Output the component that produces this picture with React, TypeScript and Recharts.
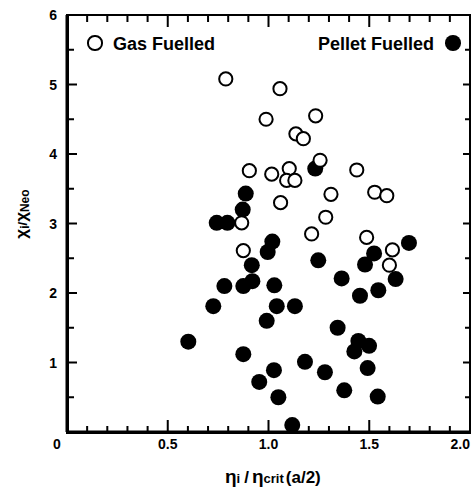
import React from 'react';
import { ScatterChart, Scatter, XAxis, YAxis } from 'recharts';

// Gas fuelled (open circles)
const gasEta = [0.788, 1.057, 0.988, 1.234, 1.136, 1.173, 1.256, 0.905, 1.016, 1.103, 1.09, 1.131, 1.438, 1.31, 1.527, 1.587, 1.06, 0.867, 1.284, 1.214, 0.875, 1.487, 1.615, 1.6];
const gasChi = [5.08, 4.94, 4.5, 4.55, 4.29, 4.22, 3.91, 3.76, 3.71, 3.79, 3.62, 3.62, 3.77, 3.42, 3.45, 3.4, 3.3, 3.01, 3.09, 2.85, 2.61, 2.8, 2.62, 2.4];

// Pellet fuelled (filled circles)
const pelletEta = [1.232, 0.887, 0.872, 0.743, 0.796, 1.019, 0.996, 0.917, 1.247, 1.524, 1.479, 1.697, 0.781, 0.875, 0.92, 1.029, 1.363, 1.631, 1.545, 1.454, 0.726, 1.041, 1.131, 0.991, 0.602, 1.343, 0.875, 1.446, 1.499, 1.426, 1.181, 1.027, 1.28, 1.492, 0.954, 1.376, 1.049, 1.542, 1.118];
const pelletChi = [3.79, 3.43, 3.2, 3.01, 3.01, 2.74, 2.59, 2.4, 2.47, 2.57, 2.41, 2.72, 2.1, 2.1, 2.17, 2.11, 2.21, 2.2, 2.04, 1.96, 1.81, 1.81, 1.81, 1.6, 1.3, 1.5, 1.12, 1.31, 1.24, 1.16, 1.01, 0.89, 0.86, 0.92, 0.72, 0.6, 0.5, 0.51, 0.1];

const xTicks = [0, 0.1, 0.2, 0.3, 0.4, 0.5, 0.6, 0.7, 0.8, 0.9, 1.0, 1.1, 1.2, 1.3, 1.4, 1.5, 1.6, 1.7, 1.8, 1.9, 2.0];
const yTicks = [0, 0.5, 1, 1.5, 2, 2.5, 3, 3.5, 4, 4.5, 5, 5.5, 6];
const xTickLabels: Record<string, string> = { '0': '0', '0.5': '0.5', '1': '1.0', '1.5': '1.5', '2': '2.0' };
const yTickLabels: Record<string, string> = { '1': '1', '2': '2', '3': '3', '4': '4', '5': '5', '6': '6' };

const pelletData = pelletEta.map((x, i) => ({ x, y: pelletChi[i] }));
const gasData = gasEta.map((x, i) => ({ x, y: gasChi[i] }));

const isMajorX = (v: number) => Math.abs(v * 2 - Math.round(v * 2)) < 1e-6;
const isMajorY = (v: number) => Math.abs(v - Math.round(v)) < 1e-6;

// tick marks placed on the axis edges through the chart scales
const tickData = [
  ...xTicks.map((v) => ({ x: v, y: 0, side: 'b', major: isMajorX(v) })),
  ...xTicks.map((v) => ({ x: v, y: 6, side: 't', major: isMajorX(v) })),
  ...yTicks.map((v) => ({ x: 0, y: v, side: 'l', major: isMajorY(v) })),
  ...yTicks.map((v) => ({ x: 2, y: v, side: 'r', major: isMajorY(v) })),
];

const FONT = '"Liberation Sans", Arial, Helvetica, sans-serif';
const OFF = 8; // tickSize (6) + tickMargin (2)

const TickMark = (p: any) => {
  const cx = Number(p.cx);
  const cy = Number(p.cy);
  const d = p.payload || {};
  const side = d.side;
  const major = !!d.major;
  if (side === 'b') {
    const len = major ? 12 : 6;
    return <rect x={cx - 1} y={cy - len} width={2} height={len} fill="#000" />;
  }
  if (side === 't') {
    const len = major ? 12 : 7;
    return <rect x={cx - 1} y={cy} width={2} height={len} fill="#000" />;
  }
  if (side === 'l') {
    const len = major ? 10 : 7;
    return <rect x={cx} y={cy - 1} width={len} height={2} fill="#000" />;
  }
  const len = major ? 7 : 5;
  return <rect x={cx - len} y={cy - 1} width={len} height={2} fill="#000" />;
};

const BottomTick = (props: any) => {
  const x = Number(props.x);
  const y = Number(props.y) - OFF;
  const v = Number(props.payload.value);
  const major = isMajorX(v);
  const txt = xTickLabels[String(Math.round(v * 10) / 10)];
  let tx = x;
  let anchor: any = 'middle';
  if (v === 0) tx = x - 10;
  if (Math.abs(v - 2) < 1e-6) anchor = 'end';
  return (
    <g>
      {major && txt ? (
        <text x={tx} y={y + 17} textAnchor={anchor} fontFamily={FONT} fontWeight="bold" fontSize={14} fill="#000">
          {txt}
        </text>
      ) : null}
    </g>
  );
};

const LeftTick = (props: any) => {
  const x = Number(props.x) + OFF;
  const y = Number(props.y);
  const txt = yTickLabels[String(Number(props.payload.value))];
  return (
    <g>
      {txt ? (
        <text x={x - 10} y={y + 5} textAnchor="end" fontFamily={FONT} fontWeight="bold" fontSize={14} fill="#000">
          {txt}
        </text>
      ) : null}
    </g>
  );
};

const OpenDot = (p: any) => <circle cx={p.cx} cy={p.cy} r={6.6} fill="#fff" stroke="#000" strokeWidth={2} />;
const FilledDot = (p: any) => <circle cx={p.cx} cy={p.cy} r={8} fill="#000" />;

const txt = (extra: any) => ({ position: 'absolute', fontFamily: FONT, fontWeight: 'bold', color: '#000', whiteSpace: 'nowrap', ...extra });
const bar = (extra: any) => ({ position: 'absolute', background: '#000', ...extra });

export default function App() {
  return (
    <div style={{ position: 'absolute', left: 0, top: 0, width: 473, height: 488 }}>
      <ScatterChart width={473} height={488} margin={{ top: 15, right: 3, bottom: 0, left: 0 }}>
        <XAxis xAxisId="b" type="number" dataKey="x" domain={[0, 2]} ticks={xTicks} interval={0} height={56} orientation="bottom" tickSize={6} tickMargin={2} tickLine={false} stroke="#000" axisLine={{ stroke: '#000', strokeWidth: 3 }} tick={<BottomTick />} />
        <YAxis yAxisId="l" type="number" dataKey="y" domain={[0, 6]} ticks={yTicks} interval={0} width={67} orientation="left" tickSize={6} tickMargin={2} tickLine={false} stroke="#000" axisLine={{ stroke: '#000', strokeWidth: 3 }} tick={<LeftTick />} />
        <Scatter xAxisId="b" yAxisId="l" data={tickData} shape={TickMark} isAnimationActive={false} />
        <Scatter xAxisId="b" yAxisId="l" data={pelletData} shape={FilledDot} isAnimationActive={false} />
        <Scatter xAxisId="b" yAxisId="l" data={gasData} shape={OpenDot} isAnimationActive={false} />
      </ScatterChart>
      {/* plot frame */}
      <div style={bar({ left: 65.5, top: 14, width: 3, height: 419.5 })} />
      <div style={bar({ left: 65.5, top: 430.5, width: 405.5, height: 3 })} />
      <div style={bar({ left: 65.5, top: 14, width: 405.5, height: 2 })} />
      <div style={bar({ left: 469, top: 14, width: 2, height: 419.5 })} />
      {/* legend */}
      <div style={{ position: 'absolute', left: 87.4, top: 35.4, width: 15.2, height: 15.2, boxSizing: 'border-box', border: '2px solid #000', borderRadius: '50%', background: '#fff' }} />
      <span style={txt({ left: 113, top: 34.8, fontSize: 18, lineHeight: '18px' })}>Gas Fuelled</span>
      <span style={txt({ right: 39, top: 34.8, fontSize: 18, lineHeight: '18px' })}>Pellet Fuelled</span>
      <div style={{ position: 'absolute', left: 445.2, top: 35.2, width: 15.6, height: 15.6, borderRadius: '50%', background: '#000' }} />
      {/* axis titles */}
      <div
        style={txt({
          left: 0,
          top: 0,
          width: 100,
          height: 17,
          lineHeight: '17px',
          fontSize: 17,
          textAlign: 'center',
          transformOrigin: '0 0',
          transform: 'translate(27px, 214px) rotate(-90deg) translate(-50px, -14.4px)',
        })}
      >
        χ<span style={{ fontSize: 12, position: 'relative', top: 1.5 }}>i</span>
        <span style={{ fontSize: 13 }}>/</span>χ
        <span style={{ fontSize: 12, position: 'relative', top: 1.5 }}>Neo</span>
      </div>
      <div style={txt({ left: 225, top: 467, fontSize: 19, lineHeight: '19px' })}>
        η<span style={{ fontSize: 13 }}>i</span>
        <span style={{ fontSize: 17, marginLeft: 4 }}>/</span>
        <span style={{ marginLeft: 3 }}>η</span>
        <span style={{ fontSize: 13 }}>crit</span>
        <span style={{ fontSize: 17, marginLeft: 2 }}>(a/2)</span>
      </div>
    </div>
  );
}
